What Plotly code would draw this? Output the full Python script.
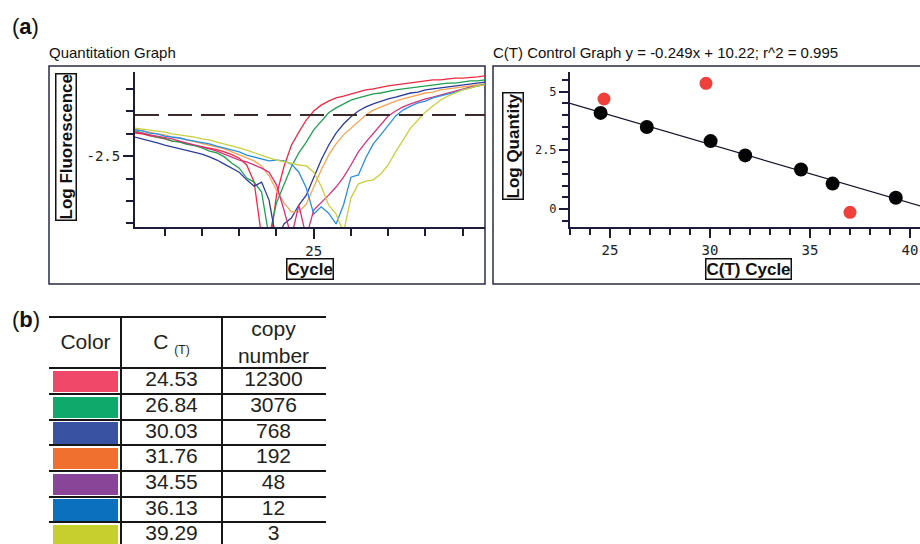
import plotly.graph_objects as go

W, H = 920, 544

# ---------------- data: quantitation graph (log fluorescence per cycle) ----------------
cycles = list(range(1, 49))
red_curve = [-1.99, -2.01, -2.05, -2.08, -2.12, -2.17, -2.18, -2.23, -2.26, -2.29, -2.33, -2.36, -2.41, -2.47, -2.55, -2.70,
             -3.08, -4.30, -4.60, -3.37, -2.74, -2.26, -1.97, -1.70, -1.50, -1.37, -1.28, -1.21, -1.17, -1.12, -1.08, -1.03,
             -1.01, -0.97, -0.94, -0.92, -0.90, -0.88, -0.86, -0.83, -0.81, -0.81, -0.79, -0.77, -0.77, -0.76, -0.74, -0.72]
green_curve = [-1.94, -1.99, -2.03, -2.08, -2.11, -2.17, -2.19, -2.24, -2.27, -2.32, -2.39, -2.43, -2.52, -2.66, -2.77, -2.99,
               -3.08, -3.30, -4.30, -3.54, -3.14, -2.74, -2.43, -2.19, -1.92, -1.72, -1.54, -1.43, -1.34, -1.26, -1.21, -1.17,
               -1.12, -1.10, -1.06, -1.03, -1.01, -0.99, -0.97, -0.94, -0.92, -0.90, -0.88, -0.88, -0.86, -0.83, -0.83, -0.81]
navy_curve = [-2.08, -2.12, -2.17, -2.21, -2.26, -2.30, -2.34, -2.37, -2.41, -2.46, -2.52, -2.59, -2.68, -2.77, -2.86, -3.03,
              -3.17, -3.08, -3.48, -4.40, -4.01, -3.88, -3.59, -3.37, -2.99, -2.59, -2.26, -1.99, -1.79, -1.63, -1.50, -1.41,
              -1.34, -1.28, -1.23, -1.19, -1.14, -1.10, -1.08, -1.03, -1.01, -0.99, -0.97, -0.94, -0.92, -0.90, -0.88, -0.86]
orange_curve = [-1.90, -1.94, -1.97, -2.01, -2.03, -2.08, -2.10, -2.14, -2.17, -2.21, -2.26, -2.30, -2.34, -2.41, -2.48, -2.54,
                -2.61, -2.72, -2.94, -3.26, -3.54, -3.74, -3.74, -3.57, -3.17, -2.81, -2.48, -2.23, -2.03, -1.88, -1.72, -1.59,
                -1.48, -1.41, -1.34, -1.28, -1.23, -1.19, -1.14, -1.10, -1.08, -1.03, -1.01, -0.99, -0.97, -0.94, -0.92, -0.90]
magenta_curve = [-1.97, -1.99, -2.03, -2.06, -2.10, -2.12, -2.17, -2.21, -2.26, -2.30, -2.34, -2.39, -2.46, -2.52, -2.59, -2.63,
                 -2.70, -2.77, -2.86, -3.14, -3.70, -4.30, -3.59, -4.30, -3.70, -3.54, -3.37, -3.19, -2.97, -2.70, -2.41, -2.19,
                 -1.99, -1.79, -1.61, -1.50, -1.41, -1.34, -1.28, -1.23, -1.19, -1.14, -1.10, -1.06, -1.01, -0.97, -0.94, -0.92]
lightblue_curve = [-1.92, -1.94, -1.99, -2.01, -2.06, -2.08, -2.10, -2.14, -2.17, -2.19, -2.23, -2.28, -2.32, -2.37, -2.41, -2.48,
                   -2.52, -2.57, -2.61, -2.59, -2.61, -2.68, -2.86, -3.21, -3.79, -3.63, -3.77, -4.01, -3.59, -2.97, -2.92, -2.54,
                   -2.23, -2.03, -1.81, -1.61, -1.48, -1.39, -1.32, -1.28, -1.21, -1.17, -1.12, -1.08, -1.03, -0.99, -0.94, -0.90]
yellow_curve = [-1.88, -1.90, -1.92, -1.94, -1.97, -2.01, -2.03, -2.06, -2.08, -2.12, -2.14, -2.19, -2.23, -2.28, -2.32, -2.37,
                -2.43, -2.48, -2.54, -2.59, -2.63, -2.66, -2.70, -2.72, -2.86, -3.17, -3.59, -3.79, -4.20, -3.43, -3.12, -3.06,
                -3.03, -2.90, -2.70, -2.41, -2.14, -1.88, -1.70, -1.52, -1.39, -1.26, -1.17, -1.10, -1.03, -0.99, -0.94, -0.92]
curve_colors = ["#ee2a40", "#22a052", "#2c3c9c", "#f8a455", "#d8307c", "#2a8ee0", "#c8d040"]
threshold = -1.59

# ---------------- data: control graph ----------------
std_ct = [24.53, 26.84, 30.03, 31.76, 34.55, 36.13, 39.29]
std_logq = [4.09, 3.49, 2.89, 2.28, 1.68, 1.08, 0.48]
unk_ct = [24.7, 29.8, 37.0]
unk_logq = [4.68, 5.35, -0.14]
fit_slope, fit_intercept = -0.249, 10.22
fit_x = [23.0, 41.0]

# ---------------- data: table ----------------
table_header = ["Color", "C <sub><span style='font-size:12px'>(T)</span></sub>", "copy<br>number"]
table_colors = ["#ef4868", "#0fa96c", "#3a52a2", "#f07030", "#894699", "#0b70bd", "#c6cf2e"]
table_ct = [24.53, 26.84, 30.03, 31.76, 34.55, 36.13, 39.29]
table_copy = [12300, 3076, 768, 192, 48, 12, 3]

# ---------------- helpers for layout positions (pixels -> paper) ----------------
def px(x):
    return x / W

def py(y):
    return 1 - y / H

fig = go.Figure()

curves = [red_curve, green_curve, navy_curve, orange_curve, magenta_curve, lightblue_curve, yellow_curve]
for vals, col in zip(curves, curve_colors):
    fig.add_trace(go.Scatter(x=cycles, y=vals, mode="lines", line=dict(color=col, width=1.3),
                             xaxis="x", yaxis="y", showlegend=False, hoverinfo="skip"))

fig.add_trace(go.Scatter(x=[cycles[0], cycles[-1]], y=[threshold, threshold], mode="lines",
                         line=dict(color="#3a2a2a", width=2, dash="24px,9px"),
                         xaxis="x", yaxis="y", showlegend=False))

fit_y = [fit_slope * v + fit_intercept for v in fit_x]
fig.add_trace(go.Scatter(x=fit_x, y=fit_y, mode="lines", line=dict(color="#14142a", width=1.3),
                         xaxis="x2", yaxis="y2", showlegend=False))
fig.add_trace(go.Scatter(x=std_ct, y=std_logq, mode="markers",
                         marker=dict(color="#050505", size=14, line=dict(width=0)),
                         xaxis="x2", yaxis="y2", showlegend=False, cliponaxis=False))
fig.add_trace(go.Scatter(x=unk_ct, y=unk_logq, mode="markers",
                         marker=dict(color="#f0403c", size=13, line=dict(width=0)),
                         xaxis="x2", yaxis="y2", showlegend=False, cliponaxis=False))

# ---------------- table drawn on its own axis pair (1 unit = 1 px across, 1 unit = 1 row down) ----------------
col_edges = [0, 71, 172, 275]
col_mid = [(col_edges[i] + col_edges[i + 1]) / 2 for i in range(3)]
n = len(table_ct)
row_mid = [i + 0.5 for i in range(n)]
tfont = dict(family="Liberation Sans, Arial", size=21, color="#231f20")

fig.add_trace(go.Bar(y=row_mid, x=[col_edges[1] - 6] * n, base=[3] * n, orientation="h", width=0.84,
                     marker=dict(color=table_colors, line=dict(width=0)),
                     xaxis="x3", yaxis="y3", showlegend=False, hoverinfo="skip"))
fig.add_trace(go.Scatter(x=[col_mid[1]] * n, y=row_mid, text=[f"{v:.2f}" for v in table_ct], mode="text",
                         textfont=tfont, xaxis="x3", yaxis="y3", showlegend=False, cliponaxis=False))
fig.add_trace(go.Scatter(x=[col_mid[2]] * n, y=row_mid, text=[str(v) for v in table_copy], mode="text",
                         textfont=tfont, xaxis="x3", yaxis="y3", showlegend=False, cliponaxis=False))
fig.add_trace(go.Scatter(x=col_mid, y=[-0.95] * 3, text=table_header, mode="text",
                         textfont=tfont, xaxis="x3", yaxis="y3", showlegend=False, cliponaxis=False))

axcol = "#1c1c3a"
mono = "DejaVu Sans Mono"
gridc = "#161616"

fig.update_layout(
    width=W, height=H, autosize=False,
    margin=dict(l=0, r=0, t=0, b=0),
    paper_bgcolor="white", plot_bgcolor="rgba(0,0,0,0)",
    showlegend=False,
    xaxis=dict(domain=[px(135), px(485)], range=[1, 48], showline=True, linecolor=axcol, linewidth=2,
               showgrid=False, zeroline=False, ticks="outside", tickvals=[25], ticktext=["25"],
               ticklen=10, tickwidth=2, tickcolor=axcol,
               minor=dict(tickmode="linear", tick0=0, dtick=5, ticks="outside", ticklen=7, tickwidth=2,
                          tickcolor=axcol, showgrid=False),
               tickfont=dict(family=mono, size=14, color="#222"), anchor="y"),
    yaxis=dict(domain=[py(227), py(72)], range=[-4.078, -0.633], showline=True, linecolor=axcol, linewidth=2,
               showgrid=False, zeroline=False, ticks="outside", tickvals=[-2.5], ticktext=["-2.5"],
               ticklen=10, tickwidth=2, tickcolor=axcol,
               minor=dict(tickmode="linear", tick0=0, dtick=0.5, ticks="outside", ticklen=7, tickwidth=2,
                          tickcolor=axcol, showgrid=False),
               tickfont=dict(family=mono, size=14, color="#222"), anchor="x"),
    xaxis2=dict(domain=[px(570), 1.0], range=[23, 40.5], showline=True, linecolor=axcol, linewidth=2,
                showgrid=False, zeroline=False, ticks="outside", tick0=0, dtick=5,
                ticklen=9, tickwidth=2, tickcolor=axcol,
                minor=dict(tickmode="linear", tick0=0, dtick=1, ticks="outside", ticklen=6, tickwidth=2,
                           tickcolor=axcol, showgrid=False),
                tickfont=dict(family=mono, size=14, color="#222"), anchor="y2"),
    yaxis2=dict(domain=[py(227), py(72)], range=[-0.766, 5.83], showline=True, linecolor=axcol, linewidth=2,
                showgrid=False, zeroline=False, ticks="outside", tickvals=[0, 2.5, 5], ticktext=["0", "2.5", "5"],
                ticklen=9, tickwidth=2, tickcolor=axcol,
                minor=dict(tickmode="linear", tick0=0, dtick=0.5, ticks="outside", ticklen=6, tickwidth=2,
                           tickcolor=axcol, showgrid=False),
                tickfont=dict(family=mono, size=12, color="#222"), anchor="x2"),
    xaxis3=dict(domain=[px(49), px(326)], range=[-1, 276], showgrid=True, gridcolor=gridc, gridwidth=1.7,
                tickmode="array", tickvals=col_edges, showticklabels=False, ticks="", zeroline=False,
                showline=False, anchor="y3", fixedrange=True),
    yaxis3=dict(domain=[0, py(315.5)], range=[6.843, -2.058], showgrid=True, gridcolor=gridc, gridwidth=1.7,
                tickmode="array", tickvals=[-2] + list(range(0, n + 1)), showticklabels=False, ticks="",
                zeroline=False, showline=False, anchor="x3", fixedrange=True),
    bargap=0,
)

# frames
frame_col = "#2a2a48"
fig.add_shape(type="rect", xref="paper", yref="paper", x0=px(49), x1=px(485), y0=py(284), y1=py(66),
              line=dict(color=frame_col, width=1.5), layer="below")
fig.add_shape(type="rect", xref="paper", yref="paper", x0=px(493), x1=px(930), y0=py(284), y1=py(66),
              line=dict(color=frame_col, width=1.5), layer="below")

sans = "Liberation Sans, Arial"
ann = []
ann.append(dict(x=px(10), y=py(26), text="(<b>a</b>)", font=dict(family=sans, size=22, color="#111"),
                xanchor="left", yanchor="middle"))
ann.append(dict(x=px(10), y=py(319), text="(<b>b</b>)", font=dict(family=sans, size=22, color="#111"),
                xanchor="left", yanchor="middle"))
ann.append(dict(x=px(47), y=py(52), text="Quantitation Graph", font=dict(family=sans, size=15, color="#111"),
                xanchor="left", yanchor="middle"))
ann.append(dict(x=px(491), y=py(52), text="C(T) Control Graph y = -0.249x + 10.22; r^2 = 0.995",
                font=dict(family=sans, size=15, color="#111"), xanchor="left", yanchor="middle"))
boxfont = dict(family=sans, size=17, color="#111")
ann.append(dict(x=px(66), y=py(147), text="<b>Log Fluorescence</b>", textangle=-90, font=boxfont,
                bordercolor="#111", borderwidth=1.5, borderpad=0, xanchor="center", yanchor="middle"))
ann.append(dict(x=px(310), y=py(268.5), text="<b>Cycle</b>", font=boxfont,
                bordercolor="#111", borderwidth=1.5, borderpad=0, xanchor="center", yanchor="middle"))
ann.append(dict(x=px(512.5), y=py(146.5), text="<b>Log Quantity</b>", textangle=-90, font=boxfont,
                bordercolor="#111", borderwidth=1.5, borderpad=0, xanchor="center", yanchor="middle"))
ann.append(dict(x=px(748), y=py(269), text="<b>C(T) Cycle</b>", font=boxfont,
                bordercolor="#111", borderwidth=1.5, borderpad=0, xanchor="center", yanchor="middle"))
for a in ann:
    a.update(xref="paper", yref="paper", showarrow=False)
fig.update_layout(annotations=ann)

fig.write_html("out.html", config={"displayModeBar": False, "staticPlot": False},
               post_script="document.body.style.margin='0px';")
